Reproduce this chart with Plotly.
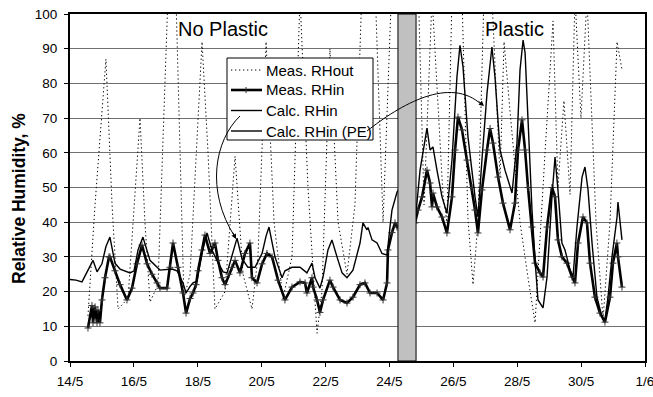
import plotly.graph_objects as go
import pandas as pd

START = pd.Timestamp("2003-05-14")

# ---- data: times in hours since 14/5 00:00, values in % ----
rhout_h = [13.5, 18.8, 27, 31.6, 36.1, 43.6, 52.6, 56.3, 60.1, 66.1, 73.6, 79.6, 85.6, 90.2,
           99.2, 103.7, 108.9, 116.5, 124, 130, 136.7, 141.2, 147.3, 153.3, 160, 166.8, 172.8,
           178.8, 185.6, 189.3, 195.3, 201.4, 208.1, 214.1, 219.4, 229.2, 235.2, 241.9, 261.5,
           266, 272, 276.5, 280.2, 283.2, 287, 294.5, 299, 302.8, 306.5, 311, 317, 323.1, 326.1,
           330.6, 338.1, 344.1, 349.4, 356.9, 362.9, 366.6, 371.1, 375.7, 379.4, 383.9, 388.4,
           395.2, 400.5, 405.7, 411, 414.7]
rhout_v = [13, 45, 87, 45, 15, 18, 70, 40, 17, 22, 105, 105, 18, 25,
           92, 60, 15, 20, 59, 25, 15, 30, 92, 40, 18, 30, 105,
           50, 8, 20, 90, 40, 25, 45, 108, 108, 40, 110, 110,
           45, 105, 75, 48, 40, 105, 105, 41, 22, 40, 105, 105, 53, 92,
           72, 40, 24, 11, 60, 98, 50, 75, 48, 105, 70, 105,
           40, 12, 40, 92, 84]

rhin_h = [13.5, 16.5, 17.3, 18.8, 20.3, 21, 22.5, 24, 26.3, 29.3, 30, 33.8, 37.6, 42.8, 46.6,
          50.3, 54.1, 57.9, 61.6, 65.4, 67.6, 72.9, 75.1, 77.4, 81.1, 84.9, 87.2, 90.2, 92.4,
          94.7, 96.2, 99.2, 101.4, 105.2, 107.4, 108.9, 111.2, 114.2, 116.5, 119.5, 121.7, 124,
          127.7, 131.5, 135.2, 136.7, 140.5, 144.3, 148, 151.8, 156.3, 161.5, 166.8, 172.8,
          176.6, 178, 181.8, 182.6, 185.6, 187.8, 190.1, 195.3, 197.6, 202.9, 208.1, 212.6,
          217.9, 221.6, 225.4, 230.7, 235.2, 238.2, 238.9, 241.9, 244.2, 245.7, 252,
          259.2, 261.5, 264.5, 268.2, 270.5, 272, 272.7, 275.7, 279.5, 283.2, 287, 289.3, 291.5,
          294.5, 298.3, 302, 304.3, 306.5, 309.5, 313.3, 315.6, 317.8, 321.6, 325.3, 330.6,
          334.3, 336.6, 339.6, 341.9, 344.1, 347.1, 349.4, 353.1, 355.4, 358.4, 362.1, 364.4,
          366.6, 369.6, 373.4, 377.2, 379.4, 381.7, 385.4, 388.4, 390.7, 394.4, 398.2, 401.9,
          405.7, 407.9, 410.9, 411.7, 414.7]
rhin_v = [9.5, 16, 11, 15.6, 11, 14.7, 11, 17.6, 24, 30, 30, 26, 22, 17.6, 21,
          28, 33.4, 28, 25, 22.5, 21, 21, 27, 34, 27, 19.6, 13.8, 18, 19.6,
          22, 26, 32, 36.3, 31, 33, 34, 29, 24, 22, 25, 27, 29,
          25.4, 31, 34, 24, 22.5, 28, 31, 30, 23.3, 17.6, 21.3, 22.8,
          22.5, 19.6, 24, 21.3, 17.6, 14, 17.6, 23.3, 21.3, 17.6, 16.7, 18.4,
          22, 22.5, 19.6, 19.6, 17.6, 22.5, 32, 37, 39.8, 38.6, 39,
          39.8, 43.5, 47.3, 55, 51.3, 44.4, 48.4, 44.4, 41.5, 36.9, 47.3, 60.8, 70.3,
          66.6, 57.9, 50, 43.5, 36.9, 49.3, 60.8, 67, 62.8, 53, 45.5, 37.8,
          45.5, 60.8, 69.5, 60.8, 50, 38.6, 28.2, 25.4, 24.2, 38.6, 50, 47.3,
          34.9, 30, 28.2, 24.2, 22.5, 34, 41.5, 39.8, 28.2, 18.4, 13.8, 11.2,
          18.4, 28.2, 34, 30, 21.3]

calc_h = [0, 4.5, 9, 11.3, 17.3, 20.3, 24, 27, 30, 33.8, 37.6, 45.1, 48.1, 51.1, 54.8, 60.1,
          67.6, 76.6, 80.4, 84.9, 87.2, 90.2, 92.4, 95.4, 99.2, 102.9, 106.7, 110.4, 115, 118,
          121.7, 125.5, 129.2, 133.7, 139, 144.3, 147.3, 149.5, 154, 159.3, 161.5, 166.8,
          172.8, 176.6, 178, 181.8, 184.1, 187.8, 190.1, 193.8, 196.8, 200.6, 204.4, 208.1,
          212.6, 217.9, 220.1, 223.1, 223.9, 226.9, 230.7, 234.4, 238.2, 240.4, 241.9, 245.7, 248]
calc_v = [23.5, 23.3, 22.8, 24.5, 29, 25.7, 28, 33, 35.7, 28.2, 26.5, 25.4, 26, 32, 35.7, 29,
          26.2, 26.5, 26, 22.5, 19.6, 21.5, 22.5, 23, 31, 36.9, 32, 29, 25.7, 25.4,
          30, 35.4, 29.5, 27, 27, 31, 36, 38.6, 30, 24, 26, 27,
          27, 26, 25.4, 28.2, 24, 21, 24.2, 32, 34.9, 30, 25.4, 24,
          26.2, 34, 39.8, 37.8, 38.5, 34.9, 34, 31, 30.5, 38.6, 43.5, 48.7, 50]

pe_h = [255.4, 259.2, 263, 268.2, 270.5, 272.7, 275.7, 279.5, 283.2, 287, 290.7, 293, 295.3,
        299, 304.3, 306.5, 309.5, 313.3, 317, 319.3, 323.1, 326.8, 332.1, 335.8, 338.1, 340.4,
        341.9, 344.1, 347.1, 349.4, 351.6, 355.4, 358.4, 362.1, 364.4, 366.6, 369.6, 371.9,
        375.7, 377.9, 380.9, 384.7, 386.9, 389.2, 392.2, 395.9, 399.7, 401.9, 404.2, 407.2,
        411, 411.7, 414.7]
pe_v = [40, 39.8, 55, 67.1, 60.8, 61.7, 55, 47.3, 42.6, 58, 81.8, 91, 84.7,
        64.6, 47.3, 41.5, 58, 77.2, 90.5, 81.8, 60.8, 55, 48.4, 62.8, 83.9, 92.5,
        88.8, 67.4, 43.5, 29, 17.6, 15.3, 24.2, 47.3, 58.8, 49.3, 34, 32,
        26.2, 24.2, 38.6, 53, 55.9, 49.3, 34, 18.4, 12.7, 11.8, 18.4, 30,
        41.5, 45.8, 34.9]

band_h = [246.4, 260]          # shaded transition period (hours)
x_days = 18                    # axis span, days
tick_step_days = 2
legend_names = ["Meas. RHout", "Meas. RHin", "Calc. RHin", "Calc. RHin (PE)"]
y_title = "Relative Humidity, %"


def to_dt(hours):
    return [(START + pd.Timedelta(hours=h)).isoformat() for h in hours]


DOT = "1.3px,2.7px"
styles = [
    dict(color="black", width=1, dash=DOT),
    dict(color="black", width=2.6),
    dict(color="black", width=1.4),
    dict(color="black", width=1.4),
]

fig = go.Figure()
fig.add_trace(go.Scatter(x=to_dt(rhout_h), y=rhout_v, name=legend_names[0], mode="lines",
                         line=styles[0]))
fig.add_trace(go.Scatter(x=to_dt(rhin_h), y=rhin_v, name=legend_names[1], mode="lines+markers",
                         line=styles[1],
                         marker=dict(symbol="cross-thin", size=5,
                                     line=dict(color="#333", width=1))))
fig.add_trace(go.Scatter(x=to_dt(calc_h), y=calc_v, name=legend_names[2], mode="lines",
                         line=styles[2]))
fig.add_trace(go.Scatter(x=to_dt(pe_h), y=pe_v, name=legend_names[3], mode="lines",
                         line=styles[3]))

# plot-area pixel geometry
L, R, T, B = 70, 8, 14, 36
W, H = 653, 397
PW, PH = W - L - R, H - T - B


def px(xp, yp):
    return (xp - L) / PW, (H - B - yp) / PH


# grey band
fig.add_shape(type="rect", xref="x", yref="paper",
              x0=to_dt([band_h[0]])[0], x1=to_dt([band_h[1]])[0], y0=0, y1=1,
              fillcolor="#c0c0c0", line=dict(color="black", width=1), layer="above")

# legend box (drawn manually to match the compact spacing)
bx0, by0 = px(227, 58)
bx1, by1 = px(373, 140)
fig.add_shape(type="rect", xref="paper", yref="paper", x0=bx0, y0=by1, x1=bx1, y1=by0,
              fillcolor="white", line=dict(color="black", width=1), layer="above")
row_y = [70, 90, 110.5, 131]
for name, st, ry in zip(legend_names, styles, row_y):
    xa, ya = px(231, ry)
    xb, _ = px(262, ry)
    fig.add_shape(type="line", xref="paper", yref="paper", x0=xa, x1=xb, y0=ya, y1=ya,
                  line=st, layer="above")
    tx, ty = px(264, ry)
    fig.add_annotation(x=tx, y=ty, xref="paper", yref="paper", text=name, showarrow=False,
                       xanchor="left", yanchor="middle", font=dict(size=15, color="black"))
mx, my0 = px(246, 87)
_, my1 = px(246, 93)
fig.add_shape(type="line", xref="paper", yref="paper", x0=mx, x1=mx, y0=my0, y1=my1,
              line=dict(color="#333", width=1), layer="above")


def curve(p0, c1, c2, p1):
    pts = [px(*p) for p in (p0, c1, c2, p1)]
    return "M {} {} C {} {}, {} {}, {} {}".format(*[v for p in pts for v in p])


fig.add_shape(type="path", xref="paper", yref="paper",
              path=curve((240, 116), (215, 140), (205, 190), (235, 237)),
              line=dict(color="black", width=1), layer="above")
fig.add_shape(type="path", xref="paper", yref="paper",
              path=curve((367, 131), (400, 105), (450, 75), (482, 105)),
              line=dict(color="black", width=1), layer="above")

for tip, off in (((236, 239), (-4, -8)), ((484, 106), (-7, -6))):
    xx, yy = px(*tip)
    fig.add_annotation(x=xx, y=yy, xref="paper", yref="paper", text="", showarrow=True,
                       ax=off[0], ay=off[1], arrowhead=2, arrowsize=1, arrowwidth=1,
                       arrowcolor="black", standoff=0)

for txt, xp in (("No Plastic", 223), ("Plastic", 514)):
    xx, yy = px(xp, 29)
    fig.add_annotation(x=xx, y=yy, xref="paper", yref="paper", text=txt, showarrow=False,
                       font=dict(size=20, color="black"), xanchor="center", yanchor="middle")

# y-axis title placed as rotated text (sits a little below the plot centre in the original)
tx, ty = px(19, 199)
fig.add_annotation(x=tx, y=ty, xref="paper", yref="paper", text="<b>" + y_title + "</b>",
                   showarrow=False, textangle=-90, xanchor="center", yanchor="middle",
                   font=dict(size=17.5, color="black"))

fig.update_layout(
    width=W, height=H,
    margin=dict(l=L, r=R, t=T, b=B, autoexpand=False),
    paper_bgcolor="white", plot_bgcolor="white",
    font=dict(family="Liberation Sans, Arial", size=13.5, color="black"),
    showlegend=False,
    xaxis=dict(type="date", range=[START.isoformat(), (START + pd.Timedelta(days=x_days)).isoformat()],
               tick0=START.isoformat(), dtick=tick_step_days * 86400000, tickformat="%-d/%-m",
               showgrid=False, showline=True, linecolor="black", linewidth=2, mirror=True,
               ticks="outside", ticklen=4, tickcolor="black", zeroline=False,
               ticklabeloverflow="allow", ticklabelstandoff=3, automargin=False),
    yaxis=dict(range=[0, 100], dtick=10, showgrid=True, gridcolor="#707070", gridwidth=1,
               showline=True, linecolor="black", linewidth=2, mirror=True,
               ticks="outside", ticklen=4, tickcolor="black", zeroline=False,
               ticklabelstandoff=4, automargin=False),
)

fig.write_html("out.html", post_script="document.body.style.margin='0';",
               config={"displayModeBar": False})
